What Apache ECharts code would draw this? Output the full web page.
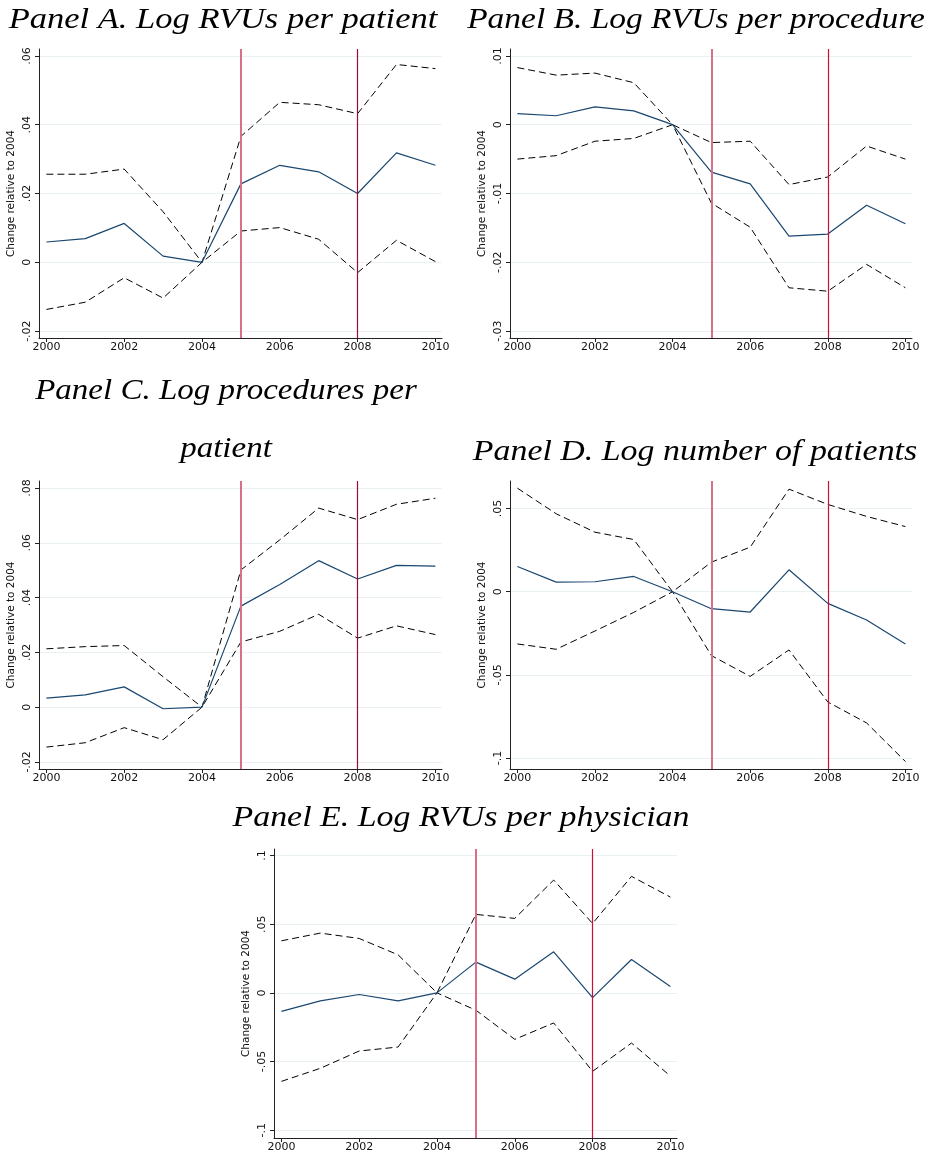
<!DOCTYPE html>
<html>
<head>
<meta charset="utf-8">
<script src="https://cdn.jsdelivr.net/npm/echarts@6/dist/echarts.min.js"></script>
<style>html,body{margin:0;padding:0;background:#fff}#c{width:928px;height:1158px}</style>
</head>
<body>
<div id="c"></div>
<script>
const years = [2000,2001,2002,2003,2004,2005,2006,2007,2008,2009,2010];
const xTicks = [2000,2002,2004,2006,2008,2010];

// Panel A: Log RVUs per patient
const aEst = [0.0059,0.0069,0.0113,0.0018,0,0.0228,0.0282,0.0263,0.0200,0.0318,0.0282];
const aHi  = [0.0256,0.0256,0.0271,0.0147,0,0.0366,0.0465,0.0458,0.0432,0.0575,0.0563];
const aLo  = [-0.0137,-0.0116,-0.0045,-0.0104,0,0.0091,0.0101,0.0067,-0.0030,0.0064,0.0002];
const aTicks = [-0.02,0,0.02,0.04,0.06];

// Panel B: Log RVUs per procedure
const bEst = [0.0016,0.0013,0.0026,0.0020,0,-0.0069,-0.0086,-0.0162,-0.0159,-0.0117,-0.0144];
const bHi  = [0.0083,0.0072,0.0075,0.0061,0,-0.0026,-0.0024,-0.0087,-0.0076,-0.0031,-0.0050];
const bLo  = [-0.0050,-0.0045,-0.0024,-0.0020,0,-0.0114,-0.0149,-0.0237,-0.0242,-0.0203,-0.0237];
const bTicks = [-0.03,-0.02,-0.01,0,0.01];

// Panel C: Log procedures per patient
const cEst = [0.0033,0.0045,0.0074,-0.0006,0,0.0369,0.0448,0.0535,0.0468,0.0518,0.0515];
const cHi  = [0.0213,0.0221,0.0225,0.0111,0,0.0501,0.0611,0.0727,0.0685,0.0741,0.0763];
const cLo  = [-0.0146,-0.0130,-0.0075,-0.0119,0,0.0238,0.0277,0.0339,0.0252,0.0297,0.0265];
const cTicks = [-0.02,0,0.02,0.04,0.06,0.08];

// Panel D: Log number of patients
const dEst = [0.0152,0.0058,0.0060,0.0092,0,-0.0102,-0.0122,0.0132,-0.0070,-0.0170,-0.0314];
const dHi  = [0.0623,0.0469,0.0358,0.0314,0,0.0178,0.0268,0.0617,0.0525,0.0453,0.0392];
const dLo  = [-0.0314,-0.0346,-0.0236,-0.0124,0,-0.0384,-0.0509,-0.0350,-0.0663,-0.0789,-0.1021];
const dTicks = [-0.1,-0.05,0,0.05];

// Panel E: Log RVUs per physician
const eEst = [-0.0134,-0.0058,-0.0012,-0.0058,0,0.0224,0.0100,0.0299,-0.0034,0.0243,0.0046];
const eHi  = [0.0379,0.0435,0.0396,0.0277,0,0.0571,0.0542,0.0821,0.0505,0.0848,0.0697];
const eLo  = [-0.0644,-0.0549,-0.0423,-0.0394,0,-0.0126,-0.0338,-0.0219,-0.0571,-0.0365,-0.0605];
const eTicks = [-0.1,-0.05,0,0.05,0.1];

const titles = [
  'Panel A. Log RVUs per patient',
  'Panel B. Log RVUs per procedure',
  'Panel C. Log procedures per\npatient',
  'Panel D. Log number of patients',
  'Panel E. Log RVUs per physician'
];
const yAxisName = 'Change relative to 2004';
const policyYears = [2005, 2008];

const panels = [
  {est:aEst, hi:aHi, lo:aLo, ticks:aTicks, ymin:-0.022, ymax:0.062, grid:{left:39, top:49, width:403, height:289}, title:{x:223,y:20,s:1.15}, l2:'#9b0a30'},
  {est:bEst, hi:bHi, lo:bLo, ticks:bTicks, ymin:-0.031, ymax:0.011, grid:{left:510, top:49, width:402, height:289}, title:{x:696,y:20,s:1.115}, l2:'#c8103a'},
  {est:cEst, hi:cHi, lo:cLo, ticks:cTicks, ymin:-0.0226, ymax:0.0826, grid:{left:39, top:481, width:403, height:288}, title:{x:226,y:420,s:1.1}, l2:'#9b0a30'},
  {est:dEst, hi:dHi, lo:dLo, ticks:dTicks, ymin:-0.1066, ymax:0.0666, grid:{left:510, top:481, width:402, height:288}, title:{x:695,y:452,s:1.13}, l2:'#c8103a'},
  {est:eEst, hi:eHi, lo:eLo, ticks:eTicks, ymin:-0.1056, ymax:0.1047, grid:{left:274, top:849, width:403, height:289}, title:{x:461,y:818,s:1.13}, l2:'#c8103a'}
];

function fmt(v){
  let r = Math.round(v*1000)/1000;
  if (Math.abs(r) < 1e-9) return '0';
  let s = String(r);
  return s.replace('0.', '.');
}

const pair = a => years.map((y,i)=>[y,a[i]]);
const grid=[], xAxis=[], yAxis=[], series=[], graphic=[];
panels.forEach((p,k)=>{
  grid.push(p.grid);
  xAxis.push({type:'value', gridIndex:k, min:1999.81, max:2010.17,
    axisLine:{show:true,onZero:false,lineStyle:{color:'#222',width:1}},
    axisTick:{show:true,customValues:xTicks,length:4,lineStyle:{color:'#222'}},
    axisLabel:{customValues:xTicks,color:'#111',fontFamily:'DejaVu Sans',fontSize:11,margin:4,formatter:v=>String(v)},
    splitLine:{show:false}});
  yAxis.push({type:'value', gridIndex:k, min:p.ymin, max:p.ymax,
    name:yAxisName, nameLocation:'middle', nameGap:22, nameRotate:90,
    nameTextStyle:{color:'#111',fontFamily:'DejaVu Sans',fontSize:10.5},
    axisLine:{show:true,onZero:false,lineStyle:{color:'#222',width:1}},
    axisTick:{show:true,customValues:p.ticks,length:4,lineStyle:{color:'#222'}},
    axisLabel:{customValues:p.ticks,rotate:90,color:'#111',fontFamily:'DejaVu Sans',fontSize:11,margin:6,formatter:fmt},
    splitLine:{show:true,lineStyle:{color:'#eaf1f3',width:1}}});
  series.push({type:'line', xAxisIndex:k, yAxisIndex:k, data:pair(p.hi), symbol:'none',
    lineStyle:{color:'#000',width:1,type:[7,4]}, z:3});
  series.push({type:'line', xAxisIndex:k, yAxisIndex:k, data:pair(p.lo), symbol:'none',
    lineStyle:{color:'#000',width:1,type:[7,4]}, z:3});
  series.push({type:'line', xAxisIndex:k, yAxisIndex:k, data:pair(p.est), symbol:'none',
    lineStyle:{color:'#1a476f',width:1.2}, z:4,
    markLine:{silent:true, symbol:'none', label:{show:false},
      data:[
        {xAxis:policyYears[0], lineStyle:{color:'#d9708a',width:2,type:'solid'}},
        {xAxis:policyYears[1], lineStyle:{color:p.l2,width:1.2,type:'solid'}}
      ]}});
  graphic.push({type:'text', x:p.title.x, y:p.title.y, scaleX:p.title.s,
    style:{text:titles[k], x:0, y:0, align:'center', verticalAlign:'middle',
      font:'italic 30px "Liberation Serif"', fill:'#000', lineHeight:58}});
});

const chart = echarts.init(document.getElementById('c'), null, {renderer:'canvas'});
chart.setOption({backgroundColor:'#fff', animation:false, grid, xAxis, yAxis, series, graphic});
</script>
</body>
</html>
